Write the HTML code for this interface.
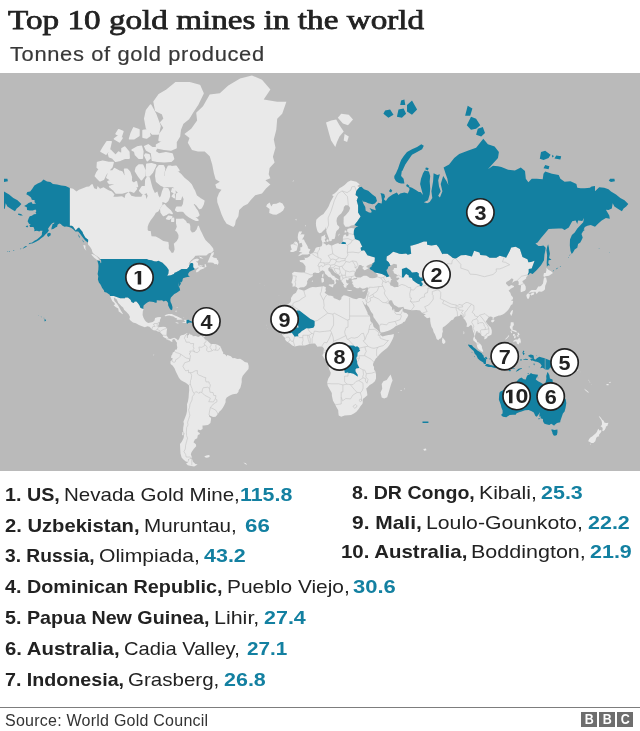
<!DOCTYPE html>
<html><head><meta charset="utf-8"><title>Top 10 gold mines in the world</title>
<style>
html,body{margin:0;padding:0;background:#fff;}
body{width:640px;height:731px;position:relative;overflow:hidden;font-family:"Liberation Sans",sans-serif;color:#222;}
.abs{position:absolute;white-space:nowrap;line-height:1;will-change:transform;}
#title{left:7.6px;top:6.3px;font-family:"Liberation Serif",serif;font-weight:normal;font-size:28px;color:#222;-webkit-text-stroke:0.75px #222;transform-origin:0 0;transform:scaleX(1.185);}
#sub{left:9.7px;top:44.2px;font-size:20px;color:#383838;-webkit-text-stroke:0.2px #383838;letter-spacing:0.6px;transform-origin:0 0;transform:scaleX(1.094);}
#map{will-change:transform;position:absolute;left:0;top:73px;width:640px;height:397.5px;background:#bababa;overflow:hidden;}
.row{font-size:19px;color:#222;}
.row b{font-weight:bold;}
.row .v{font-weight:bold;color:#1380a1;}
#rule{position:absolute;left:0;top:706.5px;width:640px;height:1px;background:#7d7d7d;}
#src{left:4.5px;top:712.7px;font-size:16px;color:#333;letter-spacing:0.24px;}
.bbc{will-change:transform;position:absolute;top:712px;width:15.5px;height:14.5px;background:#6e6e6e;color:#fff;font-weight:bold;font-size:14.5px;line-height:15px;text-align:center;}
.bbc span{display:inline-block;transform:scaleX(0.86);}
</style></head><body>
<div id="title" class="abs">Top 10 gold mines in the world</div>
<div id="sub" class="abs">Tonnes of gold produced</div>
<div id="map"><svg width="640" height="398" viewBox="0 0 640 398" style="position:absolute;left:0;top:0">
<path fill="#e9e9e9" stroke="#e9e9e9" stroke-width="1.6" stroke-linejoin="round" d="M171.8 118.6L175.1 120.0L174.6 116.8L172.6 115.8ZM172.3 123.2L174.3 124.6L174.0 121.0ZM197.9 147.2L196.2 147.2L192.9 145.7L189.5 143.9L186.1 141.3L183.6 138.2L181.1 137.8L177.7 138.2L175.7 137.1L176.8 134.3L181.9 134.3L183.6 131.4L184.4 125.9L182.7 121.9L179.4 120.5L175.1 115.8L173.5 113.4L169.2 113.4L164.2 113.4L160.8 111.9L156.6 108.3L155.8 103.0L156.6 96.2L159.1 92.7L163.3 92.7L164.5 95.6L163.3 103.0L165.0 105.2L165.9 98.5L168.4 93.3L170.9 93.3L171.8 98.5L175.1 98.5L177.7 99.1L181.1 101.9L184.4 105.7L187.8 108.3L191.2 111.9L192.9 115.3L194.5 118.2L196.2 122.8L200.4 125.9L203.8 128.0L203.0 131.4L201.3 134.7L199.6 135.5L197.1 132.2L193.7 129.3L192.9 131.4L195.4 135.5L197.4 138.2L198.8 142.1L197.1 143.5L194.5 142.4L192.0 140.3L193.7 143.5L196.2 145.7ZM171.8 97.4L174.3 98.8L178.9 97.4L176.0 93.3L171.8 93.9ZM161.2 139.4L163.3 142.4L166.7 140.9L169.2 139.4L172.1 140.5L170.1 137.5L166.7 134.7L164.2 131.8L162.5 133.1L160.8 135.9ZM166.7 145.7L169.2 146.1L171.8 143.9L168.4 143.4ZM171.8 148.3L173.5 148.3L173.5 145.4L172.1 145.7ZM176.3 126.3L180.5 126.3L181.7 122.3L180.2 120.0L176.8 121.0ZM109.7 113.6L113.6 116.8L116.1 120.0L122.0 120.0L127.1 118.6L130.5 117.7L133.8 119.1L136.4 115.8L134.7 112.4L137.4 113.4L136.4 108.8L133.8 110.4L131.1 108.3L131.3 104.1L129.6 99.1L127.1 96.2L124.6 96.2L125.4 101.9L124.6 104.6L122.0 99.1L118.7 98.0L114.5 95.6L112.8 98.0L109.4 98.0L106.9 104.6L109.4 106.2L111.9 106.7L108.0 108.8L109.4 110.4L116.1 110.1L117.8 111.9L114.5 112.1L109.7 113.6ZM95.4 103.0L97.6 105.4L100.1 107.8L103.5 106.2L105.5 101.9L108.6 97.4L111.9 93.9L113.1 89.6L108.6 89.6L102.7 88.3L97.6 89.6L97.3 94.5L99.3 96.2L96.8 99.7ZM109.4 83.8L112.8 85.1L115.6 88.3L120.4 87.1L125.4 85.1L129.1 85.1L128.8 79.1L124.6 74.1L122.0 75.6L122.0 81.1L118.7 79.1L115.6 82.5L110.2 77.0L108.6 81.1ZM101.0 78.4L106.0 81.1L109.4 76.3L111.1 68.9L106.9 68.9L103.5 74.1ZM116.1 60.9L121.2 63.4L122.9 58.4L118.7 56.7ZM114.5 65.8L119.5 68.9L122.0 65.0L117.8 63.4ZM129.6 65.8L133.8 65.8L138.9 62.6L138.9 56.7L133.8 54.9L131.3 60.1ZM143.1 64.2L146.5 65.0L149.9 62.6L148.2 56.7L143.1 57.5ZM135.5 81.8L138.9 85.1L142.3 85.1L142.8 78.4L141.4 73.4L137.2 74.1L132.2 77.0L134.7 78.4ZM144.8 82.5L147.3 87.7L149.9 85.1L149.0 81.8L145.6 81.1ZM135.5 98.0L138.9 103.5L141.4 106.7L144.3 103.0L144.8 97.4L142.6 92.1L138.9 92.1L136.4 94.5ZM146.3 102.7L149.0 103.0L152.4 99.1L155.8 92.1L151.5 90.8L146.8 91.4L146.5 97.4ZM139.7 117.7L142.3 120.5L145.6 120.0L146.8 116.8L144.8 113.8L142.3 113.8ZM152.4 87.1L157.4 88.3L164.2 88.7L170.9 88.3L173.5 85.8L172.1 81.1L165.9 79.8L159.1 81.1L154.9 78.4L156.6 74.8L152.4 74.8L148.2 71.9L144.8 73.4L146.5 77.0L151.5 79.8L152.1 83.8ZM156.6 74.8L164.2 76.3L170.9 77.0L176.0 74.8L176.0 68.9L179.4 63.4L180.2 56.7L182.7 50.4L188.6 45.7L192.9 38.6L197.9 31.0L203.0 20.3L199.6 12.5L189.5 9.7L176.0 9.7L165.9 17.8L159.1 21.6L154.1 28.7L155.8 37.6L162.5 40.7L164.2 45.7L160.8 49.5L164.2 54.9L160.0 60.9L159.1 67.4L163.3 68.1L156.6 71.9ZM146.5 54.9L152.4 60.9L158.3 60.9L160.0 53.1L155.8 41.7L150.7 32.1L146.5 37.6L144.8 45.7Z"/>
<path fill="#e9e9e9" d="M69.8 115.1L73.1 115.8L76.5 118.4L79.0 116.8L81.6 115.8L84.1 114.8L86.6 113.8L89.2 113.4L91.2 111.4L92.5 110.9L94.2 115.3L96.8 116.3L97.6 112.9L100.1 115.8L103.5 114.3L108.6 117.2L111.9 118.6L114.5 121.4L113.3 123.7L117.0 123.7L122.0 123.2L124.6 125.0L125.4 121.4L128.8 119.1L131.3 122.8L135.5 123.7L138.9 123.7L141.4 123.7L143.1 120.5L145.6 121.9L146.5 125.9L147.7 122.8L145.6 118.2L144.8 113.4L145.1 106.7L147.3 103.0L149.9 104.6L151.5 110.9L152.7 115.3L154.9 120.0L157.4 118.6L158.6 122.8L159.8 124.6L160.8 122.8L162.0 118.2L163.7 114.3L168.4 115.3L170.1 119.1L170.1 123.7L168.4 128.0L165.9 130.2L163.3 129.3L162.2 129.3L162.5 131.4L160.8 134.3L158.3 138.6L155.8 139.8L154.6 142.1L153.2 143.9L150.7 147.2L148.7 150.7L147.7 153.8L147.7 157.1L148.7 157.9L150.7 158.1L151.5 163.2L155.8 163.5L159.1 165.3L163.3 168.0L168.4 168.9L168.9 172.4L168.7 175.5L170.1 177.5L171.8 179.9L173.5 179.4L174.6 176.6L174.3 173.8L173.8 170.7L176.8 168.0L178.4 165.0L178.5 161.9L176.8 158.7L175.1 157.8L176.8 153.8L176.0 150.4L176.0 145.7L180.2 145.7L183.2 145.4L186.1 147.9L187.0 150.0L189.5 150.4L190.3 153.1L190.3 157.1L192.0 159.4L194.5 159.1L196.6 156.4L197.9 152.8L198.8 152.8L200.4 157.1L202.1 160.3L203.8 164.1L205.5 167.1L208.0 169.5L209.7 171.0L210.9 172.4L213.1 175.2L213.6 177.5L211.7 179.4L208.9 180.2L206.3 182.6L203.0 182.6L199.6 182.6L195.4 182.8L193.7 184.9L191.2 187.2L188.6 190.5L189.5 191.0L191.2 188.5L193.7 186.5L197.1 185.4L199.1 186.5L197.9 188.3L195.7 188.5L197.9 189.8L198.2 192.2L199.9 193.5L203.0 193.9L204.7 194.7L204.7 191.0L205.7 191.3L206.5 193.5L203.8 195.6L200.4 196.8L198.8 198.2L196.7 199.4L195.9 198.2L196.6 196.8L198.8 195.1L198.2 194.2L196.2 195.4L194.4 195.6L193.2 194.2L193.2 190.8L192.3 190.1L190.8 189.9L189.5 191.7L189.0 193.7L187.0 195.9L181.6 195.9L178.9 197.8L176.0 199.2L174.1 199.9L174.3 200.8L170.9 202.2L167.4 202.8L167.4 202.2L168.4 200.5L168.7 197.0L166.7 193.9L165.0 192.2L162.5 189.8L158.3 187.7L156.4 188.5L154.1 188.3L151.5 187.2L148.0 186.7L147.1 186.0L100.0 186.0L99.8 185.2L97.6 183.4L94.2 181.3L92.5 179.4L91.7 176.6L90.0 173.8L88.0 171.5L88.0 169.5L88.2 166.8L85.3 164.4L82.9 160.3L82.6 159.1L80.1 156.1L79.0 154.5L77.4 155.5L75.7 157.4L73.0 153.4L71.6 152.8L69.8 152.8ZM99.4 187.5L96.8 186.7L94.2 184.7L91.2 181.5L92.5 181.0L96.2 183.1L98.4 185.2ZM86.3 177.7L84.1 175.2L83.3 172.1L85.5 172.4L85.3 175.2ZM207.5 189.5L209.0 186.0L210.7 182.0L211.7 179.9L213.9 179.1L213.6 181.5L212.2 183.4L213.9 184.7L216.5 184.9L217.3 187.0L218.1 187.2L218.6 189.8L217.8 191.9L216.5 191.0L214.8 191.3L213.1 189.8L210.6 189.5ZM198.8 183.6L201.3 184.2L203.5 185.7L200.4 185.2ZM199.1 191.7L201.3 192.5L203.0 192.5L201.6 193.5L199.6 192.7ZM197.9 147.2L196.2 147.2L192.9 145.7L189.5 143.9L186.1 141.3L183.6 138.2L181.1 137.8L177.7 138.2L175.7 137.1L176.8 134.3L181.9 134.3L183.6 131.4L184.4 125.9L182.7 121.9L179.4 120.5L175.1 115.8L173.5 113.4L169.2 113.4L164.2 113.4L160.8 111.9L156.6 108.3L155.8 103.0L156.6 96.2L159.1 92.7L163.3 92.7L164.5 95.6L163.3 103.0L165.0 105.2L165.9 98.5L168.4 93.3L170.9 93.3L171.8 98.5L175.1 98.5L177.7 99.1L181.1 101.9L184.4 105.7L187.8 108.3L191.2 111.9L192.9 115.3L194.5 118.2L196.2 122.8L200.4 125.9L203.8 128.0L203.0 131.4L201.3 134.7L199.6 135.5L197.1 132.2L193.7 129.3L192.9 131.4L195.4 135.5L197.4 138.2L198.8 142.1L197.1 143.5L194.5 142.4L192.0 140.3L193.7 143.5L196.2 145.7ZM171.8 97.4L174.3 98.8L178.9 97.4L176.0 93.3L171.8 93.9ZM161.2 139.4L163.3 142.4L166.7 140.9L169.2 139.4L172.1 140.5L170.1 137.5L166.7 134.7L164.2 131.8L162.5 133.1L160.8 135.9ZM166.7 145.7L169.2 146.1L171.8 143.9L168.4 143.4ZM171.8 148.3L173.5 148.3L173.5 145.4L172.1 145.7ZM176.3 126.3L180.5 126.3L181.7 122.3L180.2 120.0L176.8 121.0ZM109.7 113.6L113.6 116.8L116.1 120.0L122.0 120.0L127.1 118.6L130.5 117.7L133.8 119.1L136.4 115.8L134.7 112.4L137.4 113.4L136.4 108.8L133.8 110.4L131.1 108.3L131.3 104.1L129.6 99.1L127.1 96.2L124.6 96.2L125.4 101.9L124.6 104.6L122.0 99.1L118.7 98.0L114.5 95.6L112.8 98.0L109.4 98.0L106.9 104.6L109.4 106.2L111.9 106.7L108.0 108.8L109.4 110.4L116.1 110.1L117.8 111.9L114.5 112.1L109.7 113.6ZM95.4 103.0L97.6 105.4L100.1 107.8L103.5 106.2L105.5 101.9L108.6 97.4L111.9 93.9L113.1 89.6L108.6 89.6L102.7 88.3L97.6 89.6L97.3 94.5L99.3 96.2L96.8 99.7ZM109.4 83.8L112.8 85.1L115.6 88.3L120.4 87.1L125.4 85.1L129.1 85.1L128.8 79.1L124.6 74.1L122.0 75.6L122.0 81.1L118.7 79.1L115.6 82.5L110.2 77.0L108.6 81.1ZM101.0 78.4L106.0 81.1L109.4 76.3L111.1 68.9L106.9 68.9L103.5 74.1ZM116.1 60.9L121.2 63.4L122.9 58.4L118.7 56.7ZM114.5 65.8L119.5 68.9L122.0 65.0L117.8 63.4ZM129.6 65.8L133.8 65.8L138.9 62.6L138.9 56.7L133.8 54.9L131.3 60.1ZM143.1 64.2L146.5 65.0L149.9 62.6L148.2 56.7L143.1 57.5ZM135.5 81.8L138.9 85.1L142.3 85.1L142.8 78.4L141.4 73.4L137.2 74.1L132.2 77.0L134.7 78.4ZM144.8 82.5L147.3 87.7L149.9 85.1L149.0 81.8L145.6 81.1ZM135.5 98.0L138.9 103.5L141.4 106.7L144.3 103.0L144.8 97.4L142.6 92.1L138.9 92.1L136.4 94.5ZM146.3 102.7L149.0 103.0L152.4 99.1L155.8 92.1L151.5 90.8L146.8 91.4L146.5 97.4ZM139.7 117.7L142.3 120.5L145.6 120.0L146.8 116.8L144.8 113.8L142.3 113.8ZM152.4 87.1L157.4 88.3L164.2 88.7L170.9 88.3L173.5 85.8L172.1 81.1L165.9 79.8L159.1 81.1L154.9 78.4L156.6 74.8L152.4 74.8L148.2 71.9L144.8 73.4L146.5 77.0L151.5 79.8L152.1 83.8ZM156.6 74.8L164.2 76.3L170.9 77.0L176.0 74.8L176.0 68.9L179.4 63.4L180.2 56.7L182.7 50.4L188.6 45.7L192.9 38.6L197.9 31.0L203.0 20.3L199.6 12.5L189.5 9.7L176.0 9.7L165.9 17.8L159.1 21.6L154.1 28.7L155.8 37.6L162.5 40.7L164.2 45.7L160.8 49.5L164.2 54.9L160.0 60.9L159.1 67.4L163.3 68.1L156.6 71.9ZM146.5 54.9L152.4 60.9L158.3 60.9L160.0 53.1L155.8 41.7L150.7 32.1L146.5 37.6L144.8 45.7ZM233.3 154.1L230.8 152.8L226.6 150.7L224.0 146.8L221.5 141.3L219.8 136.3L217.3 129.3L217.1 125.0L219.0 120.0L221.5 116.8L216.5 115.3L215.3 111.4L219.8 108.8L215.6 106.2L213.9 100.2L212.2 91.4L209.7 83.2L204.7 78.4L197.9 78.4L192.0 77.0L187.8 69.7L189.5 65.0L184.4 60.9L191.2 55.8L197.1 47.6L196.2 39.7L203.0 33.3L209.7 21.6L219.8 20.3L228.3 12.5L240.1 5.4L251.9 2.4L262.0 6.8L270.4 16.5L263.7 26.4L277.2 28.7L286.4 28.7L282.2 40.7L277.2 45.7L276.3 56.7L273.8 66.6L275.5 74.8L272.9 83.8L274.6 89.6L269.6 95.0L268.7 101.3L270.4 105.2L265.4 107.3L270.4 111.4L266.2 115.3L262.0 120.5L255.2 122.3L251.0 126.7L247.6 131.0L243.4 133.1L239.2 137.1L238.4 143.2L235.8 147.5L235.0 152.1ZM266.2 133.5L269.6 135.9L269.2 140.0L272.9 141.5L276.3 141.7L280.5 139.4L283.1 137.5L284.6 134.3L282.5 130.6L279.7 129.3L276.3 130.8L272.9 131.0L271.3 133.5L269.6 129.5L267.0 131.4ZM110.1 222.9L113.9 223.0L120.2 225.3L125.1 225.3L125.1 224.5L127.9 224.5L130.6 226.8L131.5 228.9L133.7 229.9L134.7 228.4L136.5 228.4L138.2 230.6L139.7 232.7L140.2 234.4L141.9 235.4L143.7 235.7L142.8 238.4L142.6 242.1L143.5 244.8L145.0 247.6L146.5 248.9L148.2 249.9L150.7 249.4L152.7 249.1L154.4 247.8L155.1 245.1L157.4 244.2L160.0 243.9L161.2 244.4L160.1 246.6L159.6 249.3L158.6 249.3L158.8 251.0L158.0 253.3L158.8 254.2L160.8 254.0L163.3 253.8L165.4 254.0L167.2 255.4L166.7 258.0L166.6 260.3L166.4 262.3L167.6 264.1L168.9 265.8L170.6 266.1L172.6 265.3L174.3 264.8L176.2 265.8L177.1 266.4L176.2 268.8L175.3 267.3L174.1 265.8L173.0 266.4L172.1 267.1L172.6 268.5L171.1 268.8L169.8 267.5L167.7 267.1L166.6 266.6L166.4 265.4L164.2 264.4L162.8 263.5L163.0 262.2L160.8 259.9L159.8 258.7L157.8 258.5L155.6 257.6L153.4 257.3L151.9 256.2L149.4 253.8L147.5 253.3L144.8 254.2L141.4 253.1L138.9 252.1L135.9 250.3L133.0 249.6L130.5 247.6L129.3 245.9L130.0 243.9L128.8 241.5L126.3 238.7L124.1 236.7L123.1 234.4L121.2 232.9L120.4 231.9L118.3 229.9L116.8 226.4L114.1 224.6L113.9 226.0L114.5 227.9L116.6 230.3L118.2 232.6L119.8 235.6L121.0 237.8L122.9 240.8L122.0 241.3L121.5 240.2L118.7 238.4L118.2 235.6L116.0 234.3L113.6 232.2L115.0 231.4L114.5 229.9L112.4 228.3L111.4 226.2L110.7 224.6ZM164.4 243.1L165.9 241.7L168.4 241.0L171.8 241.0L174.3 242.2L176.8 243.3L179.4 244.4L182.2 246.0L182.4 246.5L179.4 246.8L176.5 246.8L177.3 245.5L175.1 244.8L173.5 243.5L170.9 243.0L169.2 242.4L167.2 242.8L165.9 243.3ZM181.9 249.5L183.2 250.1L186.1 249.9L186.5 250.1L186.6 247.1L184.8 246.8L183.7 247.1L184.8 248.2L185.4 249.1L183.6 249.2ZM175.3 249.6L177.3 250.5L179.0 250.3L177.8 249.4L176.0 249.3ZM194.1 250.1L196.7 250.1L196.9 249.4L194.2 249.3ZM203.1 264.0L204.7 263.9L204.8 262.7L203.5 262.9ZM177.1 266.4L178.0 267.5L179.4 265.3L180.2 263.0L181.4 262.2L183.9 261.8L185.8 260.8L187.3 259.9L187.3 261.0L186.3 262.0L187.0 262.5L186.8 264.4L187.8 264.9L187.6 262.5L189.1 261.7L189.5 260.3L190.2 261.5L192.2 262.0L192.9 263.2L195.9 263.0L198.2 263.9L200.4 262.9L203.0 262.9L201.8 263.5L203.8 264.4L205.0 266.4L206.7 267.0L208.9 269.2L210.9 270.9L213.4 271.0L216.5 271.2L219.0 272.6L220.7 273.7L222.0 277.6L223.2 279.5L223.2 281.0L224.9 281.3L226.1 282.5L226.2 283.5L227.4 282.0L230.8 283.2L232.8 285.2L234.3 285.0L237.5 285.9L240.1 285.8L242.6 287.2L244.8 289.1L247.8 289.8L248.7 293.0L248.5 296.1L246.1 298.8L244.6 300.5L242.6 303.1L241.7 305.7L241.7 309.2L241.2 311.7L240.4 314.7L238.7 317.2L238.4 319.0L236.7 320.8L234.2 321.0L232.1 321.4L229.4 322.7L226.7 324.6L225.6 326.4L225.6 329.3L224.4 332.1L222.7 335.0L221.2 337.0L219.5 338.4L217.5 341.5L215.6 343.7L213.1 343.9L210.6 342.9L209.0 342.0L209.0 343.2L211.1 345.1L210.9 347.2L210.4 349.9L208.0 351.9L203.8 352.5L202.5 352.5L202.6 356.0L200.4 357.3L197.9 356.5L197.7 358.7L199.3 359.8L200.1 361.0L197.9 361.9L197.2 365.2L194.9 366.6L193.5 369.3L195.9 371.2L196.2 373.2L193.7 376.0L191.5 379.2L190.8 381.3L192.2 385.0L190.3 385.4L188.1 386.2L187.8 389.0L185.8 388.5L183.4 386.5L181.6 384.5L180.5 380.5L180.2 376.0L180.0 371.0L181.9 368.5L183.6 365.0L184.4 360.3L183.1 358.3L183.2 354.7L183.9 350.8L183.4 348.7L184.9 345.1L186.4 341.0L187.0 338.0L187.1 334.1L187.0 331.2L188.0 328.3L188.6 324.6L188.8 320.9L189.2 317.2L189.0 312.6L187.1 310.8L185.3 309.6L182.7 308.3L180.7 307.1L178.9 304.7L177.3 301.6L175.7 298.3L174.5 295.2L172.8 292.7L170.6 291.1L170.4 288.6L172.1 286.7L172.8 285.2L171.1 284.9L171.3 282.7L172.5 281.0L172.6 279.7L174.5 278.6L175.1 276.8L176.8 276.6L177.3 274.4L176.8 271.7L177.0 269.7L176.2 268.8ZM182.4 358.9L183.6 359.2L183.4 362.4L182.1 362.1ZM191.8 385.8L188.8 386.2L188.0 389.3L186.1 390.5L187.8 392.2L191.2 393.1L194.2 393.4L197.6 391.5L195.4 391.0L193.0 388.7L192.5 387.0ZM204.3 383.4L206.3 382.4L208.9 382.1L210.0 382.9L208.9 384.3L206.8 384.8L205.0 384.3ZM153.2 281.8L154.2 281.5L153.9 282.7ZM175.3 238.2L176.5 239.3L176.3 237.3ZM176.3 234.4L177.7 235.0L177.3 233.9ZM183.2 244.8L184.4 244.4L183.6 244.2Z"/>
<path fill="#1380a1" d="M69.8 115.1L65.6 112.9L61.3 112.4L57.1 111.4L52.9 111.1L50.4 109.1L47.0 108.6L43.5 106.5L41.1 109.1L37.7 110.4L34.4 112.4L32.3 115.8L30.2 118.4L27.3 118.9L26.3 121.2L28.5 122.5L31.0 124.6L31.8 126.7L34.7 127.2L34.5 129.3L36.1 130.6L32.7 131.0L31.5 129.1L28.5 129.9L26.8 131.4L24.1 132.9L26.8 134.3L27.1 137.1L29.6 137.6L32.7 137.5L35.5 136.5L36.4 138.0L35.5 139.8L36.4 140.9L34.0 141.3L31.8 142.8L29.8 143.2L28.8 145.0L27.6 148.3L29.0 150.7L30.7 151.7L29.3 152.4L30.2 154.1L33.5 154.1L34.5 156.8L34.2 158.2L36.9 157.8L39.4 158.4L40.3 157.8L42.5 157.8L42.0 159.4L41.8 161.9L40.1 163.8L36.9 166.5L34.4 167.7L32.2 169.5L29.6 170.5L32.2 170.4L34.4 169.4L36.9 168.3L39.4 166.8L41.1 165.3L43.6 163.5L45.3 161.6L47.5 159.4L48.9 157.4L48.0 155.8L49.9 153.1L51.4 151.1L53.1 149.7L54.6 149.7L53.8 150.7L52.2 151.4L52.4 152.1L51.6 154.5L51.4 156.4L53.8 155.8L55.4 154.5L57.1 153.8L57.6 151.7L59.3 150.4L60.8 151.1L62.2 152.4L64.4 153.8L66.4 153.6L68.9 153.9L71.1 154.8L73.7 156.8L75.3 158.4L78.2 158.6L80.1 160.8L81.9 163.2L83.6 165.6L85.3 167.4L86.8 168.8L88.0 169.5L88.2 166.8L85.3 164.4L82.9 160.3L82.6 159.1L80.1 156.1L79.0 154.5L77.4 155.5L75.7 157.4L73.0 153.4L71.6 152.8L69.8 152.8ZM47.0 162.2L48.2 164.1L50.7 162.2L50.7 160.3L49.2 159.7L47.4 160.6ZM25.6 153.4L27.3 154.5L28.3 153.1L27.1 152.4ZM18.0 141.7L20.5 142.4L22.9 142.4L21.0 140.9L18.4 140.5ZM100.0 186.0L147.1 186.0L148.0 186.7L151.5 187.2L154.1 188.3L156.4 188.5L158.3 187.7L162.5 189.8L165.0 192.2L166.7 193.9L168.7 197.0L168.4 200.5L167.4 202.2L167.4 202.8L170.9 202.2L174.3 200.8L174.1 199.9L176.0 199.2L178.9 197.8L181.6 195.9L187.0 195.9L189.0 193.7L189.5 191.7L190.8 189.9L192.3 190.1L193.2 190.8L193.2 194.2L194.4 195.6L194.5 196.6L192.0 197.5L189.5 198.7L188.3 200.5L188.1 202.2L189.5 203.3L189.5 203.7L187.5 204.0L185.3 204.6L183.1 205.3L182.7 206.2L182.4 208.0L181.2 209.5L180.2 208.4L180.9 210.4L179.7 213.1L179.4 213.8L178.7 210.6L178.5 209.1L178.7 211.9L178.9 214.0L179.5 214.6L180.2 217.3L178.5 218.6L176.3 220.0L174.3 221.0L172.6 222.8L170.9 224.4L170.3 226.8L170.6 228.9L171.6 231.0L172.5 233.9L172.3 236.5L171.1 237.2L169.8 235.8L168.9 234.1L168.1 232.2L168.1 230.1L166.6 228.1L165.4 227.8L163.7 228.5L162.0 227.2L159.5 227.4L157.6 227.2L156.6 227.5L156.9 229.5L155.3 229.7L153.6 229.1L151.9 228.7L149.4 228.5L147.7 229.3L145.6 230.8L143.6 232.6L143.3 234.8L143.7 235.7L141.9 235.4L140.2 234.4L139.7 232.7L138.2 230.6L136.5 228.4L134.7 228.4L133.7 229.9L131.5 228.9L130.6 226.8L127.9 224.5L125.1 224.5L125.1 225.3L120.2 225.3L113.9 223.0L110.1 222.9L109.7 221.8L107.9 220.4L106.4 219.6L104.3 219.0L104.0 217.5L102.0 214.8L101.0 212.5L100.3 211.2L98.9 209.5L97.9 206.6L98.3 203.3L97.6 201.0L98.3 197.0L98.5 193.0L98.3 191.0L97.3 187.6L100.0 188.0L100.6 190.3L101.3 189.5L101.0 187.2ZM186.5 250.1L187.3 250.8L188.6 249.7L189.8 249.4L191.8 249.8L192.3 249.0L191.2 248.2L189.8 247.7L188.5 246.8L186.6 247.1ZM77.9 161.0L79.6 163.5L79.9 165.0L78.9 164.1ZM82.3 166.5L83.6 168.6L84.1 169.5L82.9 168.6ZM26.1 174.1L27.3 173.0L25.1 173.3L23.4 174.7L22.6 175.8L24.3 175.0ZM20.0 176.4L21.6 175.5L20.5 175.5ZM12.8 178.0L14.5 177.5L13.8 176.9ZM9.2 178.8L10.3 178.0L8.6 178.1ZM7.4 178.8L8.1 178.1L6.9 178.3ZM28.5 171.3L30.5 170.7L31.3 169.8L29.5 169.9ZM599.2 175.8L598.3 175.4L599.7 175.2ZM609.3 179.9L610.3 179.5L609.5 179.4ZM44.4 247.0L44.7 248.4L46.2 247.6L45.8 246.7L44.7 246.1ZM43.3 245.0L44.5 245.4L44.1 244.8ZM40.7 243.9L41.6 244.2L41.2 243.5ZM38.2 242.9L38.8 243.1L38.8 242.6Z"/>
<path fill="#e9e9e9" d="M359.4 114.3L357.2 112.9L359.8 111.4L356.4 108.8L353.0 108.0L350.8 107.5L348.0 108.8L344.6 111.9L342.1 113.8L339.5 115.3L337.0 118.2L334.5 120.5L331.9 121.9L333.6 123.2L331.9 126.3L330.3 129.3L328.6 133.5L326.9 136.3L325.2 138.6L323.5 140.9L321.0 142.4L318.5 144.6L316.3 146.8L315.9 150.4L316.1 153.1L316.8 156.1L317.6 158.4L319.3 160.2L321.3 159.7L323.5 157.4L325.2 156.1L325.4 154.1L326.2 156.8L326.6 159.4L327.7 162.2L328.9 165.6L329.4 168.3L331.6 168.0L331.9 166.2L334.5 165.9L335.3 163.5L335.7 160.6L336.5 158.1L338.7 156.1L339.5 154.1L337.2 151.7L336.5 147.9L337.0 145.0L338.7 142.4L341.2 140.5L343.4 137.1L343.9 133.9L345.4 132.2L348.3 132.2L350.2 135.1L349.0 138.2L345.9 142.1L343.7 143.9L343.6 148.3L343.6 151.1L345.4 153.8L348.8 153.8L351.3 152.4L354.4 151.9L357.2 148.6L360.6 143.5L358.1 139.4L358.1 132.6L356.7 127.6L358.1 124.1L355.6 121.9L356.2 117.9ZM354.7 155.6L351.3 155.1L348.8 155.6L347.1 156.4L347.3 158.7L348.6 159.4L348.5 162.5L346.8 163.5L345.4 161.3L343.7 162.2L342.9 164.7L342.9 168.6L341.2 169.8L340.5 171.1L338.9 171.1L338.4 170.1L335.3 171.0L331.6 172.7L328.6 171.3L326.0 172.4L325.7 171.3L324.4 170.7L323.7 168.9L325.2 168.0L324.7 166.5L325.9 165.0L324.9 163.5L325.4 161.3L323.5 162.8L321.5 163.5L321.2 166.5L322.0 168.6L322.2 172.1L321.5 173.3L319.3 174.1L318.0 174.1L315.9 174.7L315.4 175.5L314.4 178.0L313.2 179.6L311.7 180.4L310.2 181.0L310.2 182.8L307.8 184.4L305.5 184.9L304.5 184.2L305.0 186.7L302.8 187.0L299.6 187.2L299.9 188.8L302.8 189.8L304.1 191.3L305.5 193.2L305.5 196.8L304.8 199.4L304.5 199.6L301.6 199.4L298.2 199.2L294.3 198.8L292.0 200.3L292.7 202.8L292.7 205.3L291.7 208.6L291.5 210.1L292.7 210.8L292.5 213.8L295.0 213.3L296.7 214.2L298.1 215.9L299.9 214.4L302.4 214.3L304.0 214.3L306.3 212.5L307.3 210.1L307.0 208.4L308.7 205.5L311.2 204.2L312.9 203.1L312.7 201.7L313.1 199.9L315.1 199.6L316.8 200.1L318.8 200.1L320.1 198.7L322.3 197.3L324.4 198.2L325.2 200.8L327.2 202.4L328.6 204.0L330.8 204.6L332.8 206.9L334.0 207.3L334.5 209.5L334.0 211.6L335.5 211.0L336.3 209.5L335.5 208.0L336.2 206.2L338.4 207.6L338.7 206.6L336.2 205.1L334.5 204.0L334.5 203.1L332.8 202.8L331.1 201.0L330.3 199.2L328.6 197.8L328.2 195.4L329.6 194.2L330.8 194.4L330.4 195.6L331.1 196.2L331.6 195.1L332.8 196.8L334.5 199.2L337.0 200.8L338.7 201.8L340.2 203.3L340.4 206.4L341.2 208.0L342.9 209.9L343.2 211.0L344.1 211.0L343.4 212.3L344.1 214.0L345.3 214.9L345.9 214.2L346.6 214.8L346.3 212.9L347.1 212.7L346.4 211.7L348.0 212.3L348.0 211.2L346.3 209.5L346.1 207.5L346.1 206.4L347.5 207.3L348.6 206.9L348.5 205.4L351.3 205.3L351.7 206.6L352.7 206.2L353.9 205.2L356.4 205.1L356.6 204.5L354.7 203.1L354.4 201.2L354.7 199.6L355.7 198.7L355.9 196.8L357.6 195.4L358.4 193.5L359.4 192.1L361.1 192.0L362.3 193.2L364.1 193.6L362.3 195.0L363.8 196.8L364.8 197.3L367.2 195.9L369.0 194.9L366.5 194.2L366.5 193.0L369.0 191.7L371.9 190.8L374.6 189.0L374.9 184.4L371.6 183.4L367.4 182.3L364.8 178.0L364.0 177.2L361.1 177.7L360.6 174.7L362.3 173.8L359.4 167.7L355.0 166.1L354.2 162.2L353.7 161.8L353.9 157.8ZM297.9 183.2L300.4 182.4L302.4 181.5L305.0 181.5L308.0 181.4L309.9 180.2L308.8 179.4L310.4 176.4L308.0 175.2L307.7 173.5L306.3 171.0L304.8 168.6L304.0 166.5L302.1 166.5L303.8 163.8L304.5 161.6L301.6 161.3L300.4 161.9L302.1 158.6L299.1 158.4L298.1 161.0L297.7 164.4L298.2 167.1L299.2 168.6L299.2 170.4L301.6 169.8L302.4 172.4L302.1 174.1L300.1 174.4L300.4 175.8L300.4 177.5L298.7 178.6L301.6 179.4L302.4 179.9L300.3 180.4L298.9 182.3ZM290.6 179.1L293.2 179.1L296.7 177.5L297.4 174.4L298.1 171.0L296.9 168.9L294.9 168.6L293.2 171.0L290.6 171.8L291.0 174.4L291.8 176.4L290.1 177.7ZM295.2 146.8L296.5 147.5L296.4 145.7ZM305.0 153.8L305.8 152.4L305.1 151.7ZM338.2 163.5L339.2 161.9L339.9 160.6L338.7 161.3ZM326.4 168.6L328.2 168.9L328.7 167.1L327.7 166.2L326.6 167.1ZM324.0 168.9L325.5 169.2L325.5 167.9L324.2 167.9ZM344.4 159.4L346.3 159.4L346.6 158.1L344.9 157.3L344.6 158.7ZM322.0 201.9L322.3 204.2L323.3 203.7L323.5 200.8L323.2 200.5ZM321.3 205.3L321.7 209.5L322.8 209.5L323.9 208.8L324.0 206.2L323.0 204.6ZM328.4 211.9L330.3 213.3L333.0 214.4L333.3 213.1L333.8 211.1L331.1 211.6L329.8 211.2ZM347.1 217.3L349.1 217.9L351.8 217.9L351.7 217.3L349.1 217.0L347.3 216.7ZM362.0 218.1L363.1 218.8L364.8 218.0L365.8 216.6L364.0 217.2L362.6 217.5ZM311.5 208.3L312.7 208.8L313.2 207.9L312.4 207.4ZM346.6 209.7L348.1 210.8L349.0 211.6L348.3 210.2ZM356.6 204.6L358.6 204.6L360.6 204.4L363.6 202.8L366.5 202.8L368.2 203.7L369.9 204.9L372.4 205.2L374.9 205.1L377.5 204.0L377.6 201.5L374.9 199.6L380.0 200.5L382.5 201.2L385.7 203.1L386.7 204.2L389.4 203.3L390.5 204.6L391.0 206.0L392.3 206.4L391.0 207.1L390.6 208.8L389.9 210.8L390.5 212.5L392.3 213.1L394.3 214.2L396.7 214.0L398.5 214.0L398.4 212.9L398.4 209.7L397.2 208.8L396.5 207.3L397.7 207.3L399.6 205.3L398.2 204.6L396.7 204.9L396.0 203.5L397.9 202.6L396.2 201.2L394.0 200.3L393.3 197.8L392.3 197.3L393.8 196.6L394.0 195.1L396.9 195.1L396.9 191.5L393.8 190.8L390.5 192.7L388.8 189.3L386.4 187.2L386.7 183.4L389.6 181.8L393.1 178.8L396.0 179.4L399.4 180.7L401.9 181.0L406.1 180.4L407.8 181.8L411.2 180.7L410.3 172.7L412.0 172.4L417.9 170.7L423.8 168.6L426.9 168.6L427.2 171.8L431.4 172.4L436.5 171.8L438.8 174.4L442.4 181.3L443.2 180.7L447.4 180.7L451.1 183.4L452.5 184.7L454.7 185.4L455.9 185.4L460.9 182.3L466.0 182.0L471.9 183.4L474.1 177.7L479.5 179.6L480.3 182.0L486.2 182.6L489.6 184.7L496.3 184.7L499.7 182.8L504.3 183.9L506.1 184.7L509.7 178.0L511.2 174.4L515.7 173.8L519.9 176.1L522.5 183.9L527.5 186.2L528.4 189.3L530.9 189.0L534.6 187.7L531.7 195.6L528.7 196.1L528.7 199.4L527.7 201.5L527.9 202.2L526.2 204.2L526.2 205.5L523.8 207.3L522.5 208.0L522.5 209.1L524.0 210.4L525.7 213.6L525.8 216.3L525.0 217.7L523.0 218.6L520.8 219.2L520.6 216.9L520.9 214.2L521.1 212.3L518.4 211.9L518.8 210.1L518.4 208.2L517.2 207.5L514.9 208.0L512.5 209.5L512.0 209.9L513.5 206.4L511.8 205.3L509.1 207.5L506.4 209.1L505.9 210.6L508.0 212.7L509.0 213.6L511.2 212.1L514.0 212.9L513.9 214.0L510.7 215.7L508.6 217.7L510.2 219.4L511.3 222.4L512.9 224.2L513.0 226.2L510.8 227.2L513.2 228.1L512.5 231.2L511.0 232.0L509.3 235.2L508.1 237.1L506.6 238.6L504.4 240.4L502.2 241.7L500.0 242.4L498.9 242.6L496.3 243.5L493.8 244.4L493.6 246.0L492.6 245.9L492.6 243.9L490.4 243.5L488.4 244.4L487.4 246.2L485.7 248.4L487.1 250.5L488.7 252.6L490.8 254.5L491.8 257.5L491.8 260.1L491.3 261.7L489.3 262.7L487.6 263.4L487.1 264.9L485.0 266.3L484.2 266.3L484.5 264.1L483.2 263.2L481.7 262.7L480.8 261.0L479.1 259.4L477.6 259.4L477.6 258.0L476.4 258.2L475.9 259.9L474.9 262.7L474.9 265.3L476.6 267.0L477.3 269.2L479.1 269.8L480.3 270.9L481.8 272.9L482.0 275.1L483.2 278.3L483.0 278.7L482.0 278.8L480.3 277.5L478.3 276.1L477.3 274.3L476.8 271.7L476.3 270.0L474.9 268.7L473.2 267.3L473.2 265.4L474.1 263.2L473.9 260.6L472.9 257.9L472.4 255.4L472.1 252.8L470.7 252.1L468.3 254.1L466.5 253.7L467.0 251.0L466.0 248.7L465.1 246.9L463.3 245.3L462.6 243.3L462.1 241.9L460.3 241.5L459.7 243.1L457.6 243.3L455.9 243.5L454.2 244.8L453.3 246.6L451.3 247.3L449.1 249.4L446.3 251.9L444.4 253.5L442.9 254.2L442.5 256.3L442.9 258.5L442.2 260.6L442.0 263.5L441.0 265.3L439.3 265.9L438.3 267.3L436.6 265.9L436.0 264.1L434.8 261.1L433.6 258.9L432.9 256.3L431.4 253.7L430.6 250.5L430.2 248.0L430.2 245.5L429.9 244.4L429.2 244.8L427.0 245.3L423.8 242.4L425.9 241.3L423.2 240.4L421.3 239.3L420.1 237.4L416.4 237.1L412.0 237.2L408.7 236.8L406.5 236.3L404.1 235.8L403.4 233.7L401.1 234.3L398.5 234.4L396.2 232.9L394.2 232.0L392.8 229.7L392.0 227.5L390.1 227.2L389.3 228.0L388.3 229.1L389.1 230.8L390.5 232.7L392.0 234.3L392.1 236.3L393.1 237.8L393.8 235.4L394.5 237.1L394.2 238.2L396.2 238.9L398.7 238.9L400.7 236.9L402.1 235.4L402.6 235.0L402.6 237.6L403.9 239.5L406.3 240.0L408.3 242.1L407.5 244.1L406.1 245.9L405.0 248.4L403.3 248.9L402.4 250.3L400.6 251.0L398.5 251.9L395.5 253.3L393.5 255.1L390.1 257.0L387.6 258.0L384.2 258.9L383.0 259.3L380.8 259.5L380.3 258.4L379.7 255.4L379.5 253.0L378.3 250.8L376.6 248.4L374.9 246.0L373.4 243.9L373.1 241.3L371.2 238.9L369.9 236.5L368.9 234.3L366.8 231.8L366.3 229.1L365.8 231.6L365.2 232.3L364.0 230.6L362.6 228.1L362.3 228.1L362.0 225.5L363.5 225.9L365.2 225.4L366.0 224.0L366.7 221.8L367.7 219.0L368.0 216.1L368.4 214.6L366.5 214.4L364.5 215.4L362.3 215.7L359.8 214.2L358.6 215.2L356.7 215.2L355.0 214.2L353.7 213.8L353.4 211.9L352.2 210.8L352.9 208.8L351.7 208.4L351.8 207.3L353.5 206.4L356.4 206.3L357.2 205.6ZM490.8 248.0L492.1 249.6L493.8 248.7L494.6 247.1L493.8 246.4L492.1 246.8ZM510.0 240.6L511.2 243.1L512.3 240.8L513.0 237.4L512.2 237.0L511.0 238.4ZM442.0 267.5L442.2 269.8L443.4 271.0L445.2 270.0L445.4 268.1L443.7 265.8L442.5 264.4ZM297.6 216.3L298.6 216.1L302.4 217.3L304.1 217.7L307.5 216.1L310.0 214.8L312.6 214.0L315.9 214.2L319.3 213.7L322.7 213.6L324.0 213.0L325.0 214.2L326.0 213.8L325.5 216.3L326.0 217.9L324.5 219.6L326.0 220.8L328.6 222.4L331.1 222.8L333.3 223.4L333.6 225.0L337.0 226.2L339.5 227.4L341.2 226.2L341.6 224.0L343.7 222.2L346.4 222.8L349.6 224.1L353.0 225.4L356.4 226.2L358.9 225.0L361.3 225.0L362.0 225.5L362.3 228.1L363.6 231.2L364.8 233.7L366.5 237.4L367.7 240.0L367.5 241.1L369.7 243.0L370.2 244.8L370.2 247.3L371.1 249.3L372.6 250.1L373.6 253.7L374.9 254.9L376.6 256.3L378.8 258.5L380.3 260.1L380.5 261.1L379.7 261.5L380.8 262.2L382.5 263.4L385.1 262.8L388.4 262.1L391.0 261.7L393.8 260.9L393.7 263.2L392.8 265.8L391.0 269.2L389.3 272.2L387.1 274.9L384.2 277.3L381.7 279.3L379.2 281.8L377.5 283.9L375.8 285.4L374.6 287.7L373.3 289.9L372.9 292.2L374.1 293.9L373.9 296.2L375.4 298.6L376.0 301.4L376.0 305.4L374.9 308.3L372.4 310.4L369.7 311.9L367.4 314.5L366.2 315.6L367.0 319.0L367.4 322.3L364.8 324.4L362.8 325.9L363.0 328.1L362.5 330.8L360.6 332.9L358.9 335.8L356.4 338.8L353.9 340.6L351.0 341.9L348.0 342.2L344.6 342.4L341.2 343.7L338.7 342.4L338.4 340.0L338.2 337.2L336.2 333.7L335.2 331.4L333.0 327.7L331.9 322.7L331.8 319.9L330.1 316.9L327.7 312.7L327.2 309.2L328.2 305.7L330.3 302.2L330.8 299.7L329.2 296.2L328.2 291.5L328.2 289.4L326.2 287.6L323.9 285.0L322.3 282.3L323.5 280.3L323.7 277.3L324.0 275.6L322.3 273.4L319.3 273.6L317.4 273.7L315.1 270.5L311.7 270.4L309.2 271.0L305.0 272.6L302.4 272.4L299.1 272.4L294.9 273.6L292.3 272.4L289.0 269.8L286.4 268.3L285.1 266.6L284.9 264.7L282.7 262.7L281.9 261.0L279.3 259.9L279.2 258.0L278.0 255.9L279.5 253.8L280.0 251.0L280.2 248.0L279.7 246.6L278.8 244.8L280.0 241.5L280.9 239.7L282.4 237.4L283.2 235.2L285.6 232.6L288.1 231.2L290.6 228.9L291.1 227.0L291.0 225.0L293.2 221.4L296.0 219.8ZM390.6 301.4L392.6 307.5L391.5 310.1L390.6 312.7L389.3 317.2L387.2 324.2L384.2 325.6L381.7 324.4L380.5 319.6L382.2 315.8L381.7 311.0L383.4 308.3L386.7 307.1L388.4 304.5ZM397.5 259.7L399.2 259.9L399.0 259.4ZM326.0 49.5L329.4 61.7L331.1 67.4L335.3 74.1L337.0 68.9L339.5 63.4L343.7 58.4L339.5 52.2L336.2 46.6L331.1 47.6ZM337.8 44.7L342.9 50.4L348.0 52.2L353.0 46.6L348.8 41.7L341.2 40.7ZM343.7 67.4L347.1 68.9L348.8 63.4L344.6 60.9ZM527.0 221.0L526.3 222.6L527.2 225.4L528.4 226.0L529.5 224.0L529.9 221.6L528.4 220.2ZM530.2 221.2L531.2 222.4L533.9 221.4L534.4 219.6L532.6 219.4ZM528.4 220.0L530.6 219.4L532.6 219.0L535.4 218.8L536.5 221.0L538.1 219.2L538.8 218.6L541.5 218.7L543.2 217.9L544.9 216.5L545.2 212.7L546.2 210.6L546.9 208.2L546.1 204.4L544.0 204.6L543.5 207.3L543.0 210.6L541.0 213.1L538.5 213.8L538.8 212.7L538.0 213.8L536.8 215.9L536.0 216.9L531.7 216.9L530.1 218.1ZM543.9 204.0L545.6 203.3L548.9 202.8L553.0 199.9L551.1 198.2L548.4 196.8L546.4 194.8L546.4 197.5L545.7 200.1L544.0 200.1L543.4 202.4ZM279.0 231.6L280.2 231.2L279.7 230.8ZM280.9 232.2L281.5 232.1L281.4 231.5ZM283.4 231.6L284.1 230.8L284.7 229.7ZM277.2 230.6L277.6 230.5L277.3 230.2Z"/>
<path fill="#1380a1" d="M341.1 170.8L341.7 169.6L343.1 168.8L345.8 169.5L345.9 171.0L342.9 171.0ZM286.9 255.8L288.3 259.9L290.1 260.3L291.8 259.8L293.7 262.3L294.5 263.7L297.0 263.2L298.2 263.4L298.2 261.0L300.1 259.8L301.9 257.9L304.1 256.8L306.3 255.3L308.8 255.5L313.4 254.7L314.6 252.8L314.7 248.1L312.9 246.9L310.5 246.0L299.4 237.4L296.5 237.4L298.1 252.8L298.6 254.5L291.8 254.5L289.5 254.7L288.1 254.4ZM328.1 290.8L328.6 289.4L329.6 288.8L331.8 289.3L334.1 287.7L334.8 284.7L337.5 281.8L337.8 278.5L338.9 275.1L338.9 273.6L341.2 273.4L345.4 274.1L348.8 272.6L353.7 272.4L355.4 273.7L357.2 273.2L359.4 275.1L359.4 277.1L360.3 277.4L357.6 279.7L357.4 283.4L356.7 283.7L356.4 285.6L357.1 288.5L357.4 291.1L359.4 294.9L356.2 295.4L355.4 296.7L355.7 298.8L357.7 301.7L357.7 303.8L355.4 302.1L353.4 300.7L350.2 300.0L348.6 300.2L347.8 299.5L344.9 300.0L344.3 297.1L344.4 293.3L340.4 292.8L339.5 294.5L337.2 294.7L335.5 291.0L329.4 291.0Z"/>
<path fill="#e9e9e9" d="M423.3 376.0L426.0 375.5L426.4 377.3L424.2 377.8ZM404.1 315.4L405.0 315.4L405.0 316.3L404.1 316.3ZM400.6 317.0L401.6 317.0L401.6 317.9L400.6 317.9ZM243.4 389.6L246.0 390.2L247.1 391.9L245.1 391.0ZM292.3 109.3L294.0 107.8L293.5 107.3ZM278.5 222.6L279.3 222.6L279.0 222.2ZM266.4 252.3L267.0 252.6L266.7 251.7ZM267.4 254.9L268.0 255.6L267.9 254.9ZM264.0 212.1L265.0 212.3L264.8 211.9ZM259.4 210.8L260.3 210.8L260.0 210.4ZM492.3 277.5L494.6 278.5L495.3 276.8L498.0 275.8L499.7 273.4L502.2 272.1L504.4 269.3L505.9 270.4L507.1 271.5L508.5 272.2L506.8 273.6L505.8 274.0L502.7 273.7L502.4 275.1L501.4 276.8L500.5 278.5L498.9 278.8L496.3 278.6L494.6 279.3L493.0 279.0ZM510.8 249.3L513.5 249.3L513.9 251.9L512.5 254.0L512.7 256.8L514.9 257.2L516.6 257.9L516.7 259.6L515.2 258.9L513.7 258.2L512.3 257.7L510.8 257.3L511.3 256.1L510.3 255.8L509.7 253.7L510.5 252.6ZM513.2 269.2L513.7 267.5L515.7 266.4L517.9 266.6L519.1 264.4L520.4 266.1L520.9 268.7L520.3 270.4L519.4 269.2L518.9 271.5L516.9 270.5L516.6 268.8L515.4 268.3L514.0 268.7ZM517.1 259.8L518.8 259.8L519.6 262.0L518.2 262.2L517.9 261.0ZM517.2 261.7L518.2 261.8L518.6 263.7L517.9 264.1L517.2 262.9ZM513.9 264.2L514.7 265.6L515.4 265.1L515.7 262.5L514.7 262.5ZM513.0 261.0L513.2 263.2L514.7 262.5L515.0 261.3L514.0 261.1ZM515.6 264.9L516.6 262.0L515.9 263.4ZM505.1 266.8L506.8 265.8L509.0 263.2L509.1 261.8L507.3 264.1L505.3 266.1ZM510.3 258.2L511.8 258.2L512.3 259.9L511.5 260.3L510.8 259.1ZM598.7 342.8L600.7 344.5L602.2 346.8L603.4 347.4L604.6 349.7L606.8 350.1L608.5 349.7L607.6 351.9L607.4 352.9L605.9 353.4L605.8 354.7L604.7 356.9L603.1 358.3L602.2 357.6L602.7 356.0L602.5 354.7L601.7 354.0L600.5 353.2L601.9 352.1L602.0 350.1L601.7 348.2L601.2 347.0L600.0 345.3L599.2 344.1ZM598.7 355.8L599.3 357.6L601.2 356.9L601.4 358.5L600.4 360.1L598.8 362.1L599.3 363.3L597.8 363.5L596.3 364.7L595.6 367.3L595.3 368.3L593.4 370.0L591.3 370.0L589.9 369.0L588.2 368.3L589.1 366.1L590.7 364.2L592.1 363.5L594.1 361.7L596.1 360.1L597.2 358.3L597.7 356.7ZM590.1 370.7L591.1 370.7L590.7 371.5L590.1 371.5ZM584.0 315.6L586.5 317.2L589.1 319.6L587.9 319.6L585.4 317.6ZM571.4 292.3L573.0 293.3L572.2 293.3ZM576.4 296.7L578.6 297.6L577.3 297.8ZM574.7 293.9L576.9 295.2L575.9 295.0ZM578.3 295.2L579.5 297.1L578.8 296.7ZM579.5 298.5L581.1 299.3L580.1 299.1ZM588.4 306.6L589.4 307.6L588.7 307.8ZM589.4 308.3L590.4 309.2L589.7 309.4ZM591.1 311.2L591.8 311.5L591.1 311.7ZM606.4 311.0L608.6 311.0L608.6 312.2L606.6 312.2ZM608.8 309.4L611.0 308.7L610.6 309.7L609.0 310.1ZM463.6 258.0L464.3 258.9L464.1 261.3L463.5 261.0ZM465.5 268.7L465.8 269.3L465.5 269.5Z"/>
<path fill="#1380a1" d="M359.4 114.3L361.5 113.8L364.0 116.3L368.2 117.7L372.4 121.4L375.8 124.1L377.0 128.0L374.9 130.6L372.4 131.2L368.2 130.2L365.7 128.9L363.1 128.5L362.1 126.7L363.3 130.6L365.3 133.9L365.7 137.8L369.0 139.4L371.2 139.8L371.6 138.2L369.5 135.1L372.4 136.3L375.8 137.3L374.9 133.5L378.3 129.7L381.7 130.6L382.0 127.2L381.3 122.8L380.5 120.0L384.2 121.0L385.1 123.7L383.9 126.3L385.9 128.0L387.9 125.0L389.3 123.7L392.6 121.4L396.9 119.6L398.5 121.9L400.2 120.5L404.4 119.6L407.8 120.5L409.5 116.8L409.0 113.8L412.0 114.8L416.2 117.2L418.8 119.1L420.5 119.1L423.0 121.9L421.3 115.8L420.1 110.9L421.0 105.7L423.0 100.2L424.7 97.4L428.9 98.5L430.2 103.0L429.7 108.3L430.2 115.8L429.7 121.4L428.0 127.2L423.8 129.3L427.2 130.2L429.7 128.9L432.3 125.0L431.4 118.2L433.1 108.3L433.6 100.2L437.3 101.9L439.9 101.3L438.2 107.3L439.0 113.4L440.7 118.2L438.2 122.8L439.9 124.6L442.4 118.2L440.7 110.9L443.2 103.0L446.6 108.3L448.3 111.9L447.4 105.7L445.8 101.3L443.6 94.5L449.1 91.4L454.2 85.1L459.2 81.1L467.7 77.7L476.1 74.8L483.3 65.8L487.9 71.2L494.6 73.4L498.9 79.1L498.0 85.1L492.1 91.4L487.9 96.2L493.0 92.7L498.0 93.3L501.4 93.9L508.1 96.8L514.9 97.4L520.8 94.5L525.0 98.0L525.8 105.7L528.4 109.3L531.7 105.7L536.8 105.7L542.7 106.2L543.5 100.8L545.2 98.5L552.0 100.8L558.7 101.9L560.4 105.7L564.6 108.8L570.5 108.3L576.4 110.9L577.3 114.8L580.6 115.3L584.8 115.3L589.9 114.8L591.6 113.4L595.0 112.9L595.0 118.2L599.2 114.3L604.2 114.8L608.5 116.3L611.0 118.6L616.0 121.4L620.3 125.0L624.5 127.2L628.3 131.0L626.2 133.5L623.6 135.5L621.9 138.2L618.6 136.3L614.4 133.5L612.7 130.2L611.8 135.5L608.5 137.1L605.9 136.7L609.3 142.4L609.8 145.7L605.9 145.0L601.7 147.5L598.3 150.4L595.0 153.8L590.7 152.1L587.4 152.8L584.8 154.1L582.8 158.7L581.5 161.0L582.7 164.4L582.0 166.2L580.3 169.5L578.1 171.0L577.3 174.7L574.7 176.6L573.0 179.4L571.7 181.0L570.5 178.0L569.8 172.4L570.0 166.5L571.9 161.9L574.7 159.4L577.3 155.5L580.6 152.1L583.2 149.3L584.0 145.0L582.3 147.9L578.1 147.5L577.3 151.1L575.6 147.5L572.2 148.3L568.8 154.5L564.6 157.1L562.1 155.5L558.7 155.5L552.8 155.8L548.6 156.1L544.4 161.0L541.0 165.0L537.6 169.5L535.4 170.4L538.5 173.0L541.0 173.0L543.5 172.4L545.7 174.7L545.2 178.0L544.4 182.0L544.0 187.2L541.0 192.2L536.8 197.0L532.6 201.0L530.1 200.1L527.9 202.2L527.7 201.5L528.7 199.4L528.7 196.1L531.7 195.6L534.6 187.7L530.9 189.0L528.4 189.3L527.5 186.2L522.5 183.9L519.9 176.1L515.7 173.8L511.2 174.4L509.7 178.0L506.1 184.7L504.3 183.9L499.7 182.8L496.3 184.7L489.6 184.7L486.2 182.6L480.3 182.0L479.5 179.6L474.1 177.7L471.9 183.4L466.0 182.0L460.9 182.3L455.9 185.4L454.7 185.4L452.5 184.7L451.1 183.4L447.4 180.7L443.2 180.7L442.4 181.3L438.8 174.4L436.5 171.8L431.4 172.4L427.2 171.8L426.9 168.6L423.8 168.6L417.9 170.7L412.0 172.4L410.3 172.7L411.2 180.7L407.8 181.8L406.1 180.4L401.9 181.0L399.4 180.7L396.0 179.4L393.1 178.8L389.6 181.8L386.7 183.4L386.4 187.2L388.8 189.3L390.5 192.7L388.4 193.5L387.6 195.9L386.4 197.0L387.6 200.5L389.4 203.3L386.7 204.2L385.7 203.1L382.5 201.2L380.0 200.5L374.9 199.6L372.4 197.5L370.4 196.6L369.5 195.1L371.6 193.5L371.9 191.7L373.8 190.8L371.9 190.8L374.6 189.0L374.9 184.4L371.6 183.4L367.4 182.3L364.8 178.0L364.0 177.2L361.1 177.7L360.6 174.7L362.3 173.8L359.4 167.7L355.0 166.1L354.2 162.2L353.7 161.8L353.9 157.8L354.7 155.6L356.4 154.1L358.4 154.1L356.4 153.1L354.4 151.9L357.2 148.6L360.6 143.5L358.1 139.4L358.1 132.6L356.7 127.6L358.1 124.1L355.6 121.9L356.2 117.9ZM394.3 105.2L396.0 108.3L398.5 109.8L401.1 110.4L404.4 110.4L403.6 105.7L401.1 103.0L401.9 97.4L400.2 95.6L397.7 96.2L396.0 100.2L394.3 103.0ZM397.4 97.4L402.3 98.0L405.3 91.4L408.7 86.4L412.0 81.8L417.1 79.1L422.1 76.3L423.8 72.7L421.3 71.2L417.1 74.1L412.0 76.3L407.0 79.1L403.6 83.2L401.1 87.1L399.4 91.4ZM608.8 107.8L611.0 109.1L614.9 108.3L614.4 105.7L610.1 105.7ZM546.9 193.7L548.3 192.0L549.3 193.2L549.4 191.5L548.3 190.3L548.6 187.2L551.5 186.7L549.1 184.9L549.9 180.7L549.1 176.6L548.9 174.4L548.1 171.3L547.2 173.8L546.4 177.2L547.1 182.0L546.9 186.5L546.7 189.8ZM388.9 118.2L391.0 119.6L392.3 117.7L390.6 115.8ZM406.1 112.9L408.7 114.8L409.5 112.9L407.0 110.9ZM425.2 96.2L428.0 97.4L428.6 95.0L425.9 94.5ZM583.2 158.4L584.8 156.8L583.7 156.4ZM4.0 118.6L9.1 121.4L13.3 125.0L17.5 127.2L21.4 131.0L19.2 133.5L16.7 135.5L15.0 138.2L11.6 136.3L7.4 133.5L5.7 130.2L4.9 135.5L4.0 135.9ZM4.0 109.1L7.9 108.3L7.4 105.7L4.0 105.7ZM401.9 204.4L401.9 195.9L406.3 194.4L410.3 197.3L412.0 199.4L416.9 198.9L418.9 200.5L418.8 202.8L420.0 204.6L422.0 204.6L422.3 205.5L423.2 206.0L423.8 204.6L425.9 202.8L427.0 202.2L427.5 202.4L426.4 203.5L428.2 204.4L429.2 205.1L430.7 205.5L429.6 206.4L428.4 207.0L426.5 206.9L426.2 206.2L426.7 205.1L425.9 205.3L424.3 205.8L424.3 206.9L423.2 207.1L423.7 207.5L421.6 208.2L421.1 209.1L422.3 209.7L422.8 211.2L421.8 213.3L419.6 213.0L419.8 211.6L418.1 211.0L415.7 209.6L412.7 207.3L411.9 204.9L408.8 204.2L408.7 202.4L406.3 201.0L405.3 201.7L403.6 204.4ZM468.2 271.5L471.9 272.2L473.2 273.9L475.8 275.9L477.4 277.5L479.5 278.8L481.8 280.2L482.5 281.5L483.7 282.7L483.7 284.2L486.2 285.9L486.2 286.6L486.0 288.6L485.9 290.9L483.9 291.0L483.3 289.6L480.0 287.6L477.8 285.4L476.6 282.7L474.6 280.5L473.7 278.1L471.4 275.9L469.4 273.9L468.0 272.1ZM484.9 292.5L486.4 291.0L487.9 291.0L490.4 292.0L493.8 292.7L494.5 291.8L495.5 292.2L497.3 292.7L498.0 294.0L500.4 294.2L500.7 295.7L498.0 295.2L494.6 295.0L491.3 294.1L488.7 294.0L486.9 293.5ZM497.5 292.9L499.7 292.7L499.5 293.2L497.7 293.3ZM505.8 274.0L506.3 275.9L505.6 277.6L508.0 279.3L506.1 279.7L505.6 281.8L504.3 283.5L503.8 285.2L503.2 287.6L500.9 287.9L500.5 286.7L498.9 286.6L496.3 286.7L494.6 285.9L493.3 285.9L493.0 283.7L491.4 281.8L491.3 280.3L491.1 279.0L492.3 277.5L493.0 279.0L494.6 279.3L496.3 278.6L498.9 278.8L500.5 278.5L501.4 276.8L502.4 275.1L502.7 273.7ZM509.5 280.7L510.2 279.5L511.5 278.8L514.7 279.4L517.1 278.8L518.6 278.1L517.4 280.3L514.9 280.2L512.3 280.2L510.7 280.2L509.8 281.0L510.0 282.5L511.2 283.4L512.5 282.5L515.6 282.2L515.4 282.7L513.2 283.9L512.3 284.4L513.5 286.1L513.9 286.9L515.2 287.7L514.5 288.8L513.2 289.1L512.3 288.8L511.5 287.6L511.5 285.6L510.3 286.4L510.5 288.6L510.5 290.4L509.1 290.5L508.8 289.6L509.0 287.7L507.8 285.9L508.6 284.0L509.3 282.3ZM528.4 282.3L530.9 281.6L533.4 282.3L533.9 283.9L533.8 285.2L535.1 286.7L537.3 284.9L539.3 283.7L541.9 284.4L544.7 285.3L545.2 285.4L545.2 296.4L542.7 294.7L540.2 295.2L541.3 293.2L541.7 292.5L540.2 290.5L538.8 289.4L536.8 288.8L535.1 288.4L532.6 287.6L531.4 287.7L530.1 285.9L533.1 285.0L530.6 284.7L528.4 283.2ZM522.5 279.5L523.3 277.5L524.5 278.5L523.3 279.3L524.7 280.5L523.6 282.3L522.8 281.0ZM523.3 286.2L525.8 285.7L528.0 286.2L527.7 287.1L525.0 286.7L523.3 286.7ZM519.9 286.6L522.0 286.4L522.0 287.2L520.3 287.4ZM500.5 294.9L502.2 294.7L502.4 295.6L501.4 295.9ZM503.1 295.2L504.3 295.2L503.9 296.1L503.1 295.9ZM504.4 295.4L506.4 294.9L508.3 295.2L508.0 295.9L505.6 296.2ZM509.7 295.4L512.3 295.4L514.7 294.9L514.5 295.7L511.5 296.1L509.7 295.9ZM508.1 297.3L510.2 296.9L511.2 298.1L509.5 298.3ZM515.7 298.5L517.4 296.7L518.6 295.7L521.6 295.1L522.1 295.4L519.9 296.6L518.2 297.8L516.6 298.5ZM484.9 284.2L486.2 283.7L487.6 285.9L486.2 286.1ZM488.9 285.4L490.1 285.7L489.6 286.4L488.9 286.1ZM471.2 278.6L472.6 280.0L472.1 280.0ZM473.9 282.7L474.9 283.9L474.2 284.0ZM533.8 290.3L534.8 291.1L534.1 292.5L533.6 291.5ZM528.9 293.3L529.7 294.0L528.9 294.5ZM536.0 282.3L537.1 282.7L536.8 283.0ZM545.2 285.4L547.8 286.4L550.3 287.4L553.3 289.8L554.5 290.5L555.7 291.1L556.7 291.3L556.9 292.3L555.3 292.4L555.7 293.7L557.4 295.4L558.0 296.2L559.2 296.4L560.4 297.9L561.9 298.4L560.7 299.1L559.6 298.5L557.0 298.3L555.5 297.1L553.7 294.9L551.6 294.0L549.6 294.9L549.3 296.2L547.8 296.7L545.2 296.4ZM557.5 290.5L559.6 290.3L561.2 290.3L562.9 289.4L564.1 288.1L564.4 288.9L563.4 290.5L561.7 291.5L559.6 291.6L557.7 291.0ZM561.7 285.4L563.4 286.2L565.0 287.6L565.6 288.9L565.0 288.8L563.8 287.2L562.1 285.9ZM568.2 290.1L569.7 291.1L570.3 292.5L569.2 292.2L568.3 291.0ZM554.7 284.4L556.0 284.4L555.7 284.7ZM547.8 299.1L549.4 302.2L549.9 305.5L552.5 306.6L552.8 309.2L554.0 312.7L556.2 314.4L558.4 316.0L559.6 318.7L561.7 320.5L562.1 322.3L564.6 324.6L565.8 326.4L566.3 330.2L565.5 335.0L564.6 338.4L562.9 340.6L561.7 344.1L560.4 347.8L560.2 349.3L557.0 350.1L554.5 352.1L554.2 352.7L552.0 351.2L551.1 350.8L549.4 352.1L546.1 351.2L544.2 350.4L543.0 348.2L542.9 345.9L540.5 345.3L540.8 343.0L539.7 344.3L539.3 342.0L540.0 339.2L538.5 341.4L536.8 343.7L535.4 343.0L533.8 339.6L531.7 338.2L528.7 337.0L525.0 337.2L521.6 338.4L519.1 339.2L516.6 340.2L515.7 341.8L513.0 341.8L509.8 341.9L507.3 343.4L506.3 344.3L503.1 343.8L501.6 342.7L501.4 341.2L502.6 340.6L502.6 337.4L501.4 334.5L500.7 331.4L499.9 329.3L498.9 326.8L499.0 324.2L499.4 319.9L500.0 318.7L501.7 318.1L504.3 316.6L507.5 316.0L509.8 315.2L512.3 313.3L513.5 311.9L514.7 309.0L515.9 310.6L517.4 307.5L519.1 305.7L521.5 304.4L523.6 306.2L525.8 306.4L526.5 304.0L527.7 302.1L529.2 301.7L530.9 300.0L532.6 301.0L536.0 301.6L538.0 301.7L537.6 303.6L536.6 304.5L535.8 306.4L538.1 308.2L541.0 309.7L542.4 310.8L544.9 311.0L545.9 308.3L546.4 305.7L546.2 303.1L546.7 301.4L547.2 299.7ZM551.5 356.2L554.5 357.1L557.4 356.6L557.5 359.2L556.9 361.9L555.0 362.8L553.7 362.6L552.5 360.5L552.3 359.2L551.5 357.4ZM537.8 345.7L539.5 345.3L540.3 345.9L538.5 346.2ZM527.2 300.5L529.2 300.2L528.4 301.2ZM537.5 304.7L538.3 304.5L538.1 305.4ZM383.4 40.7L388.4 44.7L393.5 41.7L390.1 36.5L385.1 37.6ZM396.9 43.7L401.9 44.7L406.1 40.7L403.6 35.4L398.5 36.5ZM407.0 38.6L412.0 41.7L417.1 36.5L412.0 27.6L407.0 32.1ZM400.2 32.1L405.3 32.1L404.4 26.4L401.1 27.6ZM466.8 52.2L471.0 56.7L476.1 55.8L480.3 52.2L476.1 45.7L471.0 43.7ZM476.1 61.7L481.2 63.4L485.0 60.1L482.8 54.0L477.8 55.8ZM465.1 42.7L470.2 42.7L472.4 35.4L467.7 32.7ZM539.8 85.8L543.5 87.1L548.6 85.1L550.6 81.8L545.2 77.7L541.0 79.1ZM554.5 85.5L560.4 86.4L561.2 83.2L556.2 82.5ZM543.5 95.3L548.6 96.2L549.4 93.3L545.2 92.1ZM552.0 84.5L554.0 83.2L552.3 81.8ZM552.8 198.7L554.0 197.3L553.3 197.3ZM555.2 197.0L558.4 194.7L556.9 195.1ZM559.6 194.2L561.2 193.0L560.4 193.0ZM569.3 183.1L570.7 181.5L569.8 181.8ZM568.0 185.2L568.7 184.2L568.0 184.2ZM422.5 348.5L428.4 348.5L428.4 350.0L422.5 350.0Z"/>
<path fill="none" stroke="#bfbfbf" stroke-width="0.55" stroke-linejoin="round" d="M187.3 260.9L185.6 262.2L184.4 265.3L185.4 266.8L186.1 269.2L189.5 269.2L190.5 270.7L193.7 270.5L193.2 273.4L194.0 275.3L193.2 276.3L194.7 279.0M194.7 279.0L193.0 278.0L189.8 278.1L190.5 279.8L189.5 280.0L189.5 281.3L190.5 282.7L189.6 288.1M189.6 288.1L189.4 285.6L186.1 285.0L183.6 283.2L180.7 281.2M180.7 281.2L178.9 280.3L176.8 279.8L174.6 278.6M180.7 281.2L180.0 283.5L178.2 285.4L175.7 286.7L175.3 288.8L174.0 289.4L172.1 288.4L172.1 286.7M189.6 288.1L184.6 289.8L182.9 293.3L184.6 296.4L185.8 297.9L188.5 297.1L188.5 299.7L190.2 299.6M190.2 299.6L191.7 302.2L191.2 306.1L190.5 307.6L190.3 311.0L188.8 312.5M190.2 299.6L192.0 299.7L195.2 297.8L197.4 297.6L197.4 300.9L198.9 302.1L201.6 303.1L203.3 304.0L205.8 304.7L205.5 306.8L206.0 308.9L209.0 308.9L209.4 310.8L210.4 311.9L210.0 313.6L209.5 315.7M209.5 315.7L207.9 314.2L203.3 314.7L202.5 316.3L201.9 319.5M201.9 319.5L199.8 319.0L198.9 320.5L197.6 319.2L195.7 318.7L194.2 320.5M194.2 320.5L192.5 318.1L192.0 315.4L191.2 313.6L190.3 311.0M194.2 320.5L194.5 320.9L192.3 323.6L192.0 327.0L190.0 331.0L189.5 334.5L188.6 337.0L189.5 340.4L189.8 342.4L188.6 346.3L187.6 349.3L188.0 351.9L186.6 354.7L186.4 359.2L186.6 362.6L187.5 365.2L186.6 368.5L185.6 372.2L185.3 376.0L183.9 378.6L185.6 381.3L186.1 384.0L189.6 384.0L192.2 385.0M191.8 385.8L191.8 392.2M201.9 319.5L204.7 322.3L208.4 324.2L210.4 325.3L208.7 328.7L212.4 328.9L213.3 329.1L215.4 325.7M209.5 315.7L209.9 319.2L213.1 319.6L213.8 322.5L216.0 322.7L215.4 325.7M215.4 325.7L216.8 326.6L217.0 328.7L213.4 331.0L210.4 334.5M210.4 334.5L209.4 339.0L209.0 342.0M210.4 334.5L213.1 335.8L215.6 337.0L217.5 340.0L217.5 341.5M194.7 279.0L197.1 279.7L199.6 277.8L198.9 274.1L201.8 274.3L205.2 272.2M205.2 272.2L204.0 271.0L204.5 269.7L205.8 269.2L206.3 267.0M205.2 272.2L206.7 273.4L207.2 274.4L206.5 277.1L208.0 278.8L209.7 278.5L212.2 277.8M212.2 277.8L210.9 275.4L209.7 274.3L211.1 272.2L211.2 271.0M212.2 277.8L213.3 276.8L215.4 277.1M215.4 277.1L216.1 274.9L215.8 272.6L216.5 271.4M215.4 277.1L218.3 277.3L220.3 274.3M152.1 256.2L152.1 255.2L152.9 253.6L155.1 253.5L153.4 251.5L154.1 251.5L154.1 250.5L157.2 250.5L157.2 253.8L157.6 253.8M157.2 250.5L158.6 249.3M158.6 254.2L157.1 256.5L155.6 257.6M157.1 256.5L159.6 257.5L159.5 258.4M160.3 258.9L161.3 257.5L164.2 256.1L167.2 255.4M163.0 262.2L164.7 262.3L166.4 262.5M168.2 264.7L167.7 267.1M303.8 217.7L304.6 220.6L305.5 223.4L301.4 225.8L301.3 226.2L298.7 227.9L294.9 229.1L292.9 230.5L292.9 233.1M292.9 232.4L285.2 232.4M292.9 233.1L292.9 235.6L287.3 235.6L287.3 240.3L285.6 241.1L285.4 244.2L278.9 244.2M292.9 233.1L299.4 237.4M279.7 253.5L283.1 252.6L285.6 254.5L286.9 255.8M279.3 260.0L282.2 259.5L284.4 259.5L284.4 260.1L288.3 259.9M279.2 257.9L282.2 257.5L284.2 258.2L282.2 258.4L279.2 258.7M282.2 262.3L284.4 261.1L284.4 259.5M285.1 265.8L286.4 264.2L289.0 264.1L290.1 266.6M290.1 266.6L291.7 268.5L293.2 268.1M290.1 266.6L288.1 269.3M293.2 268.1L293.7 266.6L294.5 263.7M293.2 268.1L294.9 273.6M298.2 263.4L299.7 264.6L302.8 264.6M302.8 264.6L303.1 267.5L302.1 270.0L302.8 272.4M302.8 264.6L302.8 262.3L307.5 262.2M307.5 262.2L308.3 266.6L309.5 270.7M309.0 262.3L310.2 265.8L310.2 270.5M313.6 261.1L312.1 265.8L312.1 270.2M307.5 262.2L309.0 262.3L311.5 260.8L311.5 260.1M311.5 260.1L309.2 258.2L307.8 255.5M311.5 260.1L313.6 261.1M313.6 261.1L314.4 258.0L319.3 258.9L324.4 258.4L330.4 257.7M314.7 248.1L317.3 247.6L327.7 240.2M327.7 240.2L332.8 241.1M332.8 241.1L333.6 244.8L333.6 252.1L330.4 257.7M327.7 240.2L323.5 235.0L324.2 232.7L323.5 227.4M323.5 227.4L320.1 221.0L321.3 218.6L322.0 214.0M323.5 227.4L324.9 224.4L326.9 221.7M349.6 224.8L349.6 243.0M349.6 243.0L349.6 246.6L348.0 246.6L348.0 247.5M348.0 247.5L334.5 240.3L332.8 241.1M349.6 243.0L369.7 243.0M348.0 247.5L348.0 254.2L346.1 254.5L344.6 258.9L345.4 262.3L346.1 262.5M346.1 262.5L339.5 265.8L333.6 268.3M333.6 268.3L333.1 264.1L331.4 259.2L330.4 257.7M331.4 259.9L329.8 264.1L326.9 269.8L324.4 269.3L322.0 272.9M333.6 268.3L331.9 272.6L334.8 277.3M334.8 277.3L329.9 277.3L324.0 277.1M329.9 277.3L331.8 279.3L331.9 281.8L331.8 284.4L328.6 285.0L326.2 287.6M324.0 279.3L326.6 279.3L326.6 277.3M334.8 277.3L338.9 275.1M353.7 272.4L348.3 266.6L347.1 266.3L346.1 262.5M348.0 266.3L351.3 264.7L354.7 265.1L358.1 264.1L361.5 260.6L363.5 260.3L364.7 264.9L365.0 266.6M365.0 266.6L363.1 267.8L367.0 271.9L368.0 273.2M368.0 273.2L364.8 273.9L359.4 275.1M365.0 266.6L366.5 262.5L368.4 259.4L368.9 256.5M368.9 256.5L369.9 251.9L372.6 250.1M368.9 256.5L374.9 256.3L379.0 259.8L380.2 259.4M379.0 259.8L378.0 262.3L379.9 262.3L380.4 261.5M379.9 262.3L380.0 264.9L381.7 265.8L386.7 267.5L388.4 267.5L383.4 272.6L378.3 273.9L378.1 274.3M378.1 274.3L374.1 275.3L371.6 274.9L368.2 273.5L368.0 273.2M378.1 274.3L376.6 276.3L376.6 282.5L377.6 283.9M364.8 273.9L366.3 278.5L364.8 281.0L364.7 282.7M364.7 282.7L371.1 286.2L373.6 288.9M364.7 282.7L358.9 282.7L359.4 285.0M356.4 285.6L359.4 285.0L358.1 288.3L357.1 288.5M359.4 294.9L363.0 296.9L364.8 297.1L366.3 300.7L371.6 300.2L375.6 298.8M363.0 296.9L363.5 301.4L362.6 304.1L363.1 304.8M366.3 300.7L365.8 304.0L368.0 306.4L367.0 310.3L365.3 308.0L365.7 305.7L363.1 304.8M363.1 304.8L358.8 307.6M358.8 307.6L356.2 308.3L353.0 311.7L350.2 311.5M348.0 299.5L348.0 303.1L344.6 303.1L344.6 308.7L347.0 311.2L350.2 311.5M327.4 310.5L331.1 310.8L338.7 310.8L342.9 311.9L347.0 311.2M342.9 311.9L342.9 319.0L341.2 319.0L341.2 324.2M341.2 324.2L341.2 331.0L336.8 331.5L335.3 331.4M341.2 324.2L342.6 327.9L345.8 325.5L350.5 325.9L352.9 322.1L357.1 319.4M357.1 319.4L354.2 316.3L350.2 311.5M357.1 319.4L360.3 319.8M360.3 319.8L362.1 317.8L363.1 315.1L363.0 310.1L358.8 307.6M360.3 319.8L361.5 323.6L361.5 326.2L361.6 327.9L363.0 328.0M359.8 326.2L361.5 326.4L361.6 327.9L360.3 328.9L359.4 327.7L359.8 326.2M353.0 333.3L355.6 331.4L357.1 332.9L356.4 334.3L354.7 335.2L353.4 334.1L353.0 333.3M292.7 203.1L293.7 202.8L296.4 203.1L295.9 205.1L295.7 208.0L294.9 208.2L295.7 211.2L295.0 213.3M304.5 199.6L308.7 201.0L310.4 201.7L312.9 201.8M320.1 198.7L319.3 196.6L319.0 193.9L319.3 193.7M319.3 193.7L317.8 193.0L319.3 189.8L320.3 189.5M319.3 193.7L321.8 192.5L322.7 193.9L325.0 192.0M325.0 192.0L323.7 189.8M320.3 189.5L323.7 189.8M320.3 189.5L321.3 186.0L318.3 184.7M318.3 184.7L315.6 183.4L314.6 182.6L311.7 180.4M313.2 179.6L315.9 179.6L317.3 180.4L317.6 181.3M317.6 181.3L317.8 183.1L318.3 184.7M317.6 181.3L317.8 178.6L319.3 177.2L319.6 174.4M322.0 169.8L324.2 170.1M331.6 172.7L332.1 176.4L332.8 180.7M332.8 180.7L328.1 182.6L330.8 186.5M330.8 186.5L329.4 189.8L325.2 190.0L323.7 189.8M325.0 192.0L328.1 191.0L330.6 192.2M330.6 192.2L334.6 191.4M334.6 191.4L336.3 188.5M330.8 186.5L332.8 186.0L336.0 187.0M336.0 187.0L336.3 188.5M332.8 180.7L335.3 182.6L339.2 184.7M339.2 184.7L336.0 187.0M339.2 184.7L341.2 185.4L345.4 185.7M345.4 185.7L348.0 182.0L347.3 179.4M347.3 179.4L347.8 172.7M347.1 172.5L345.9 171.3M347.1 172.5L351.0 169.8L352.3 167.4M342.9 166.2L348.0 165.6L352.3 167.4M352.3 167.4L355.0 166.1M348.5 160.6L351.3 161.0L353.7 161.8M347.3 179.4L353.0 179.1L358.9 179.9L361.1 177.7M336.3 188.5L339.2 189.0L341.2 188.0L344.8 187.5M344.8 187.5L345.4 185.7M344.8 187.5L346.1 188.5M346.1 188.5L342.9 193.0L341.7 193.2M341.7 193.2L339.4 193.7M339.4 193.7L335.5 192.2L334.6 191.4M346.1 188.5L349.5 189.3L352.3 187.9M352.3 187.9L355.0 192.2L355.0 194.8M352.3 187.9L356.4 188.5L358.2 192.5L355.0 194.8M355.0 194.8L357.4 195.1M345.8 197.8L349.6 198.9L353.0 198.0L355.7 198.8M341.7 193.2L343.6 196.3L345.8 197.8M345.8 197.8L345.3 202.2M345.3 202.2L346.3 204.3M346.3 204.3L351.8 203.5M351.8 203.5L354.7 202.8M351.8 203.5L351.3 205.3M341.2 208.0L342.9 205.4M342.9 205.4L346.3 204.3M342.9 205.4L342.1 203.1M340.2 203.2L342.1 202.4L345.3 202.2M342.1 202.4L341.7 201.0L339.9 199.4M338.7 201.8L339.9 199.4M339.5 196.1L340.4 199.4M334.1 195.4L336.2 195.4L339.5 196.1L339.4 193.7M334.1 195.4L334.8 197.8L337.2 200.5M330.4 194.7L333.3 194.7L335.5 192.2M330.6 192.2L330.4 194.4M326.2 157.1L328.6 152.1L328.1 145.0L331.1 138.2L334.5 127.2L337.8 120.5L342.1 117.9M348.3 132.2L347.5 123.7L342.1 117.9M342.1 117.9L347.1 119.6L350.8 117.2L351.8 113.8L354.7 113.4L356.4 118.2M295.2 169.5L293.7 171.3L296.9 172.1M377.5 204.0L380.8 204.9M380.8 204.9L383.0 208.0M383.0 208.0L382.0 211.6L383.0 213.3M383.0 213.3L379.0 213.6M379.0 213.6L373.3 214.4L369.4 214.2L369.2 215.4L368.0 216.1M380.8 204.9L383.4 204.4L385.7 203.1M383.4 204.4L384.2 206.0L385.9 208.4L385.9 209.7M383.0 208.0L385.9 209.7L388.4 208.0L389.9 210.8M379.0 213.6L377.0 218.3L372.9 221.2M372.9 221.2L369.5 223.4L367.7 222.6M367.7 222.6L369.2 219.6L368.2 218.7M366.7 221.8L367.7 221.4M367.7 222.6L367.4 225.0L366.5 228.8M365.2 225.4L366.3 228.9M366.5 229.1L368.2 229.5L370.7 227.9L369.9 225.0L373.3 224.0L373.6 223.7M373.6 223.7L372.9 221.2M373.6 223.7L378.3 225.8L382.9 229.5L385.9 229.7M385.9 229.7L387.9 227.7L388.4 227.9M385.9 229.7L389.1 230.8M383.0 213.3L384.0 215.9L385.1 217.9L384.2 220.0L385.1 222.0L387.9 226.0L389.3 228.0M379.7 253.0L380.5 251.2L382.5 251.2L386.7 251.9L388.4 249.8L395.2 248.4M395.2 248.4L400.2 246.6L401.4 243.0L400.6 241.7M400.6 241.7L396.2 241.3L394.5 239.1M400.6 241.7L401.9 239.1L402.6 237.6M395.2 248.4L397.0 252.5M398.4 213.0L401.9 211.4L405.3 212.5L408.7 214.6L410.7 214.6L410.7 216.7M410.7 216.7L409.7 220.8L410.2 225.0L411.7 225.2L410.2 228.2M410.2 228.2L413.4 231.2L414.2 233.3L411.4 237.1M410.2 228.2L412.9 229.1L415.4 228.9L419.3 228.1L419.5 226.2L422.1 224.4L424.7 224.0L424.3 222.0L425.5 220.0L427.4 219.8L428.0 216.9L427.5 215.7L433.3 213.8M433.8 213.3L430.6 213.1L428.2 214.2L428.0 211.0L425.5 212.5L421.8 213.3M419.6 213.0L416.8 213.6L413.7 217.1L410.7 216.7M396.0 203.5L398.5 202.2L401.9 204.4M427.0 202.2L431.4 200.5L435.3 200.8L440.7 201.0L442.7 202.4M442.7 202.4L442.9 200.1L443.7 195.9L446.6 195.4L446.3 194.7L447.4 190.5L451.7 191.0L452.2 187.5L454.7 185.4M442.7 202.4L437.0 205.3L431.9 207.7L431.8 208.6M431.8 208.6L428.4 208.6L426.5 206.9M431.8 208.6L433.9 212.9L433.8 213.3M422.5 239.9L427.2 238.6L424.7 233.7L428.7 232.0L432.1 227.9L433.3 226.0L433.1 222.4L432.3 221.6L432.3 218.6L437.3 216.9L438.7 216.9M433.8 213.3L435.6 216.1L438.7 216.9M438.7 216.9L440.7 219.4L440.7 223.0L440.2 225.6L444.1 227.5M444.1 227.5L442.5 230.3L447.9 232.9L450.8 234.3L456.0 234.8L456.2 232.0M444.1 227.5L449.1 230.1L451.7 231.2L456.2 232.0M456.2 232.0L457.4 233.1L458.9 231.4L462.1 232.2L462.8 233.9L458.9 234.3L457.4 233.1M462.1 232.2L466.0 229.5L467.7 229.5L471.5 231.2M471.5 231.2L468.0 235.6L467.0 237.4L464.8 239.3L465.0 243.0L463.6 244.2M457.6 243.3L457.2 238.7L456.0 236.0L456.5 234.8L458.9 235.6L458.9 236.9L463.3 237.4L461.3 239.9L463.1 241.1L463.6 244.2L463.1 245.3M471.5 231.2L473.9 232.7L473.9 236.5L472.1 239.3L474.4 241.0L474.8 242.8L478.0 243.9M478.0 243.9L476.3 245.9M476.3 245.9L472.7 247.1L471.7 249.3L473.9 253.1L473.1 255.4L474.8 258.9L475.3 261.5L474.1 264.1M478.0 243.9L479.6 242.2M479.6 242.2L485.0 240.6L487.4 243.0L489.6 243.9M479.6 242.2L482.8 245.9L484.9 248.9L487.9 253.1L488.9 255.9M476.3 245.9L478.1 247.5L477.8 251.0L479.6 249.8L482.8 249.6L484.0 251.2L484.2 253.0L485.5 254.2L484.9 256.6M484.9 256.6L488.9 255.9M488.9 255.9L488.9 260.1L486.2 261.0L486.2 262.3L483.6 263.4M484.9 256.6L481.2 256.8L480.3 257.9L481.0 261.1M476.3 270.2L477.8 271.2L479.6 270.5M455.5 185.4L460.8 191.3L460.8 195.1L468.3 197.5L470.0 201.2L476.1 201.5L484.4 203.7L493.0 201.5L496.3 198.7L496.2 195.9L499.7 195.9L502.4 194.9L509.7 191.7L505.4 189.3L502.4 188.8L504.3 183.9M517.2 207.5L521.5 203.3L523.5 202.8L527.7 201.9M520.1 212.3L524.0 210.4M545.2 285.4L545.2 296.4"/>
<g font-family="Liberation Sans, sans-serif" font-weight="bold" font-size="19.3" text-anchor="middle" fill="#222">
<circle cx="139.50" cy="204.30" r="13.65" fill="#fff" stroke="#222" stroke-width="1.7"/><path d="M137.70 197.95L141.20 197.95L141.20 211.45L137.70 211.45L137.70 200.10L134.70 201.70L134.70 199.70Z"/>
<circle cx="436.50" cy="201.40" r="13.65" fill="#fff" stroke="#222" stroke-width="1.7"/><text transform="translate(436.50 208.65) scale(1.12 1)">2</text>
<circle cx="480.40" cy="139.40" r="13.65" fill="#fff" stroke="#222" stroke-width="1.7"/><text transform="translate(480.40 146.65) scale(1.12 1)">3</text>
<circle cx="206.40" cy="248.40" r="13.65" fill="#fff" stroke="#222" stroke-width="1.7"/><text transform="translate(206.40 255.65) scale(1.12 1)">4</text>
<circle cx="564.60" cy="289.60" r="13.65" fill="#fff" stroke="#222" stroke-width="1.7"/><text transform="translate(564.60 296.85) scale(1.12 1)">5</text>
<circle cx="550.70" cy="323.50" r="13.65" fill="#fff" stroke="#222" stroke-width="1.7"/><text transform="translate(550.70 330.75) scale(1.12 1)">6</text>
<circle cx="504.70" cy="283.30" r="13.65" fill="#fff" stroke="#222" stroke-width="1.7"/><text transform="translate(504.70 290.55) scale(1.12 1)">7</text>
<circle cx="339.45" cy="283.50" r="13.65" fill="#fff" stroke="#222" stroke-width="1.7"/><text transform="translate(339.45 290.75) scale(1.12 1)">8</text>
<circle cx="284.60" cy="246.30" r="13.65" fill="#fff" stroke="#222" stroke-width="1.7"/><text transform="translate(284.60 253.55) scale(1.12 1)">9</text>
<circle cx="516.60" cy="323.10" r="13.65" fill="#fff" stroke="#222" stroke-width="1.7"/><path d="M509.00 316.75L512.50 316.75L512.50 330.25L509.00 330.25L509.00 318.90L506.00 320.50L506.00 318.50Z"/><text transform="translate(522.05 330.35) scale(1.2 1)">0</text>
</g>
</svg>
</div>
<span class="abs row" style="left:5.42px;top:484.65px;transform-origin:0 0;transform:scaleX(1.0376);font-weight:bold;">1. US,</span>
<span class="abs row" style="left:64.14px;top:484.65px;transform-origin:0 0;transform:scaleX(1.0808);">Nevada Gold Mine,</span>
<span class="abs row" style="left:240.10px;top:484.65px;transform-origin:0 0;transform:scaleX(1.1247);font-weight:bold;color:#1380a1;">115.8</span>
<span class="abs row" style="left:5.40px;top:515.50px;transform-origin:0 0;transform:scaleX(1.0618);font-weight:bold;">2. Uzbekistan,</span>
<span class="abs row" style="left:144.13px;top:515.50px;transform-origin:0 0;transform:scaleX(1.0848);">Muruntau,</span>
<span class="abs row" style="left:245.06px;top:515.50px;transform-origin:0 0;transform:scaleX(1.1731);font-weight:bold;color:#1380a1;">66</span>
<span class="abs row" style="left:5.44px;top:546.30px;transform-origin:0 0;transform:scaleX(1.0094);font-weight:bold;">3. Russia,</span>
<span class="abs row" style="left:98.61px;top:546.30px;transform-origin:0 0;transform:scaleX(1.1098);">Olimpiada,</span>
<span class="abs row" style="left:204.10px;top:546.30px;transform-origin:0 0;transform:scaleX(1.1302);font-weight:bold;color:#1380a1;">43.2</span>
<span class="abs row" style="left:5.42px;top:577.10px;transform-origin:0 0;transform:scaleX(1.0407);font-weight:bold;">4. Dominican Republic,</span>
<span class="abs row" style="left:227.12px;top:577.10px;transform-origin:0 0;transform:scaleX(1.1001);">Pueblo Viejo,</span>
<span class="abs row" style="left:353.07px;top:577.10px;transform-origin:0 0;transform:scaleX(1.1572);font-weight:bold;color:#1380a1;">30.6</span>
<span class="abs row" style="left:5.42px;top:607.90px;transform-origin:0 0;transform:scaleX(1.0359);font-weight:bold;">5. Papua New Guinea,</span>
<span class="abs row" style="left:214.10px;top:607.90px;transform-origin:0 0;transform:scaleX(1.1285);">Lihir,</span>
<span class="abs row" style="left:264.10px;top:607.90px;transform-origin:0 0;transform:scaleX(1.1302);font-weight:bold;color:#1380a1;">27.4</span>
<span class="abs row" style="left:5.39px;top:638.70px;transform-origin:0 0;transform:scaleX(1.0704);font-weight:bold;">6. Australia,</span>
<span class="abs row" style="left:124.15px;top:638.70px;transform-origin:0 0;transform:scaleX(1.0610);">Cadia Valley,</span>
<span class="abs row" style="left:246.63px;top:638.70px;transform-origin:0 0;transform:scaleX(1.0896);font-weight:bold;color:#1380a1;">27.1</span>
<span class="abs row" style="left:5.42px;top:669.50px;transform-origin:0 0;transform:scaleX(1.0344);font-weight:bold;">7. Indonesia,</span>
<span class="abs row" style="left:128.14px;top:669.50px;transform-origin:0 0;transform:scaleX(1.0807);">Grasberg,</span>
<span class="abs row" style="left:224.10px;top:669.50px;transform-origin:0 0;transform:scaleX(1.1302);font-weight:bold;color:#1380a1;">26.8</span>
<span class="abs row" style="left:352.18px;top:483.40px;transform-origin:0 0;transform:scaleX(1.0295);font-weight:bold;">8. DR Congo,</span>
<span class="abs row" style="left:479.11px;top:483.40px;transform-origin:0 0;transform:scaleX(1.1169);">Kibali,</span>
<span class="abs row" style="left:541.10px;top:483.40px;transform-origin:0 0;transform:scaleX(1.1302);font-weight:bold;color:#1380a1;">25.3</span>
<span class="abs row" style="left:352.12px;top:513.40px;transform-origin:0 0;transform:scaleX(1.1017);font-weight:bold;">9. Mali,</span>
<span class="abs row" style="left:426.11px;top:513.40px;transform-origin:0 0;transform:scaleX(1.1160);">Loulo-Gounkoto,</span>
<span class="abs row" style="left:588.10px;top:513.40px;transform-origin:0 0;transform:scaleX(1.1302);font-weight:bold;color:#1380a1;">22.2</span>
<span class="abs row" style="left:340.64px;top:542.40px;transform-origin:0 0;transform:scaleX(1.0742);font-weight:bold;">10. Australia,</span>
<span class="abs row" style="left:471.09px;top:542.40px;transform-origin:0 0;transform:scaleX(1.1319);">Boddington,</span>
<span class="abs row" style="left:590.10px;top:542.40px;transform-origin:0 0;transform:scaleX(1.1302);font-weight:bold;color:#1380a1;">21.9</span>
<div id="rule"></div>
<div id="src" class="abs">Source: World Gold Council</div>
<div class="bbc" style="left:581px"><span>B</span></div><div class="bbc" style="left:599px"><span>B</span></div><div class="bbc" style="left:617.2px"><span>C</span></div>
</body></html>
